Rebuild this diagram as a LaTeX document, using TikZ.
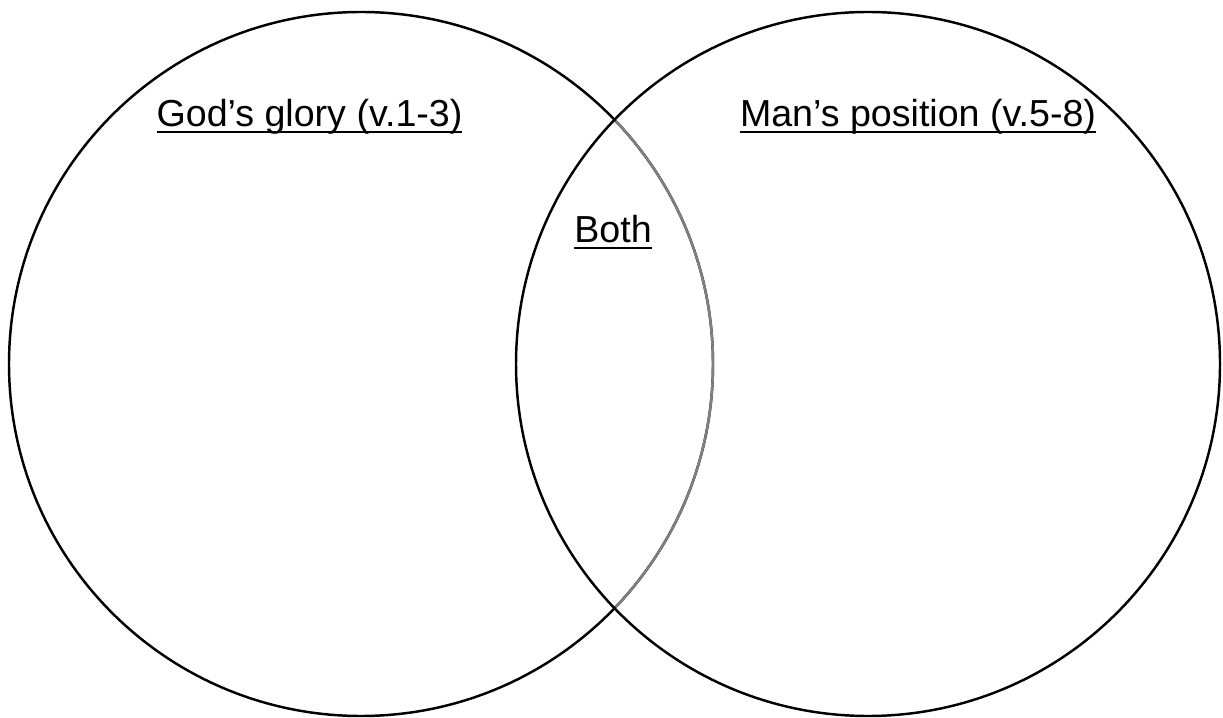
\documentclass[tikz,border=0pt]{standalone}
\usepackage{fontspec}
\setmainfont{Liberation Sans}
\usepackage{tikz}
\usetikzlibrary{positioning}
\newcommand\ulin[1]{\setbox0\hbox{#1}\rlap{\rule[-3.6pt]{\wd0}{1.5pt}}\box0}
\tikzset{
	venn/.style   ={draw=black, line width=1.4pt},
	vlabel/.style ={anchor=base, inner sep=0pt, font=\fontsize{21.4}{25}\selectfont},
	overlap/.style={draw=gray, line width=1.4pt},
}
\begin{document}
\begin{tikzpicture}
	\useasboundingbox (0,0) rectangle (24.46,-14.36);
	\coordinate (godc) at (7.22,-7.28);
	\coordinate (manc) at (17.36,-7.28);
	\draw[venn] (godc) circle[radius=7.04];
	% part of the left circle that lies inside the right one
	\draw[overlap] ([shift={(-43.9:7.04)}]godc) arc[start angle=-43.9, end angle=43.9, radius=7.04];
	\draw[venn] (manc) circle[radius=7.04];
	\node[vlabel] (godlbl) at (6.19,-2.54) {\ulin{God’s glory (v.1-3)}};
	\node[vlabel] (manlbl) at (18.36,-2.54) {\ulin{Man’s position (v.5-8)}};
	\node[vlabel] (bothlbl) at (12.26,-4.86) {\ulin{Both}};
\end{tikzpicture}
\end{document}
